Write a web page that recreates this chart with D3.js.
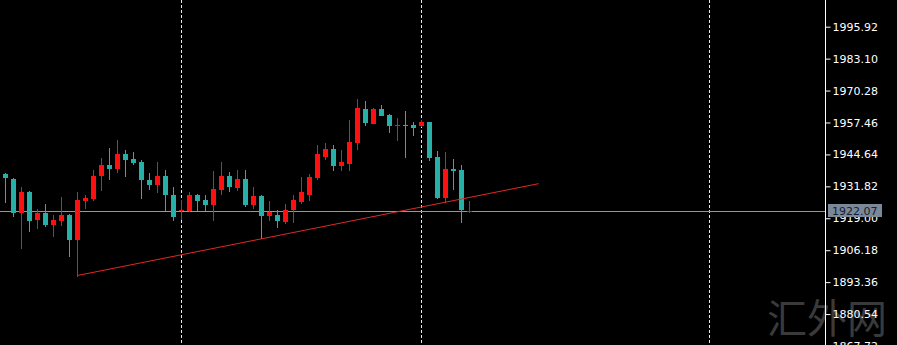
<!DOCTYPE html>
<html>
<head>
<meta charset="utf-8">
<script src="https://cdn.jsdelivr.net/npm/d3@7"></script>
<style>
  html, body { margin: 0; padding: 0; background: #000; overflow: hidden; }
  svg { display: block; }
</style>
</head>
<body>
<div id="chart"></div>
<script>
// OHLC, oldest first
const opens  = [1936.76,1934.75,1921.09,1929.65,1918.40,1921.21,1916.39,1917.99,1920.41,1910.08,
                1925.91,1926.84,1935.80,1940.50,1938.89,1944.64,1942.79,1941.43,1934.47,1932.46,
                1936.08,1928.44,1921.73,1922.01,1928.44,1926.44,1924.43,1930.45,1935.80,1931.14,
                1934.75,1924.43,1928.04,1920.00,1920.41,1917.47,1922.13,1925.63,1928.44,1935.16,
                1943.52,1946.81,1940.10,1940.90,1949.22,1963.01,1956.98,1963.01,1960.60,1955.89,
                1956.58,1956.58,1955.89,1957.66,1943.60,1927.24,1938.81,1938.49,1921.81];
const highs  = [1937.29,1935.16,1931.54,1930.05,1922.70,1924.83,1920.41,1927.36,1920.81,1929.65,
                1928.32,1938.49,1943.31,1947.33,1950.27,1946.25,1945.73,1942.23,1937.17,1941.71,
                1938.49,1931.54,1926.44,1929.37,1928.85,1928.44,1937.81,1941.59,1937.41,1938.21,
                1938.49,1931.54,1928.32,1925.75,1922.42,1924.83,1928.44,1935.56,1936.88,1948.54,
                1949.06,1948.54,1946.53,1958.31,1966.91,1965.94,1963.20,1964.62,1961.00,1959.27,
                1962.20,1957.50,1958.31,1957.78,1945.85,1945.73,1942.91,1940.50,1925.75];
const lows   = [1925.23,1919.48,1906.74,1913.69,1914.78,1915.46,1911.44,1915.99,1903.65,1895.61,
                1922.82,1925.91,1929.77,1934.47,1937.17,1935.40,1940.38,1926.72,1930.17,1929.13,
                1921.73,1917.71,1918.12,1921.33,1921.73,1921.73,1917.71,1928.44,1929.37,1929.77,
                1923.50,1922.70,1910.76,1917.71,1915.06,1916.67,1917.07,1924.83,1925.75,1934.47,
                1942.51,1937.81,1937.81,1937.81,1946.53,1956.18,1956.80,1959.91,1953.24,1949.87,
                1943.19,1951.88,1955.65,1941.83,1926.72,1925.23,1930.17,1917.07,1921.09];
const closes = [1935.00,1921.09,1929.65,1917.71,1921.21,1916.39,1918.40,1920.41,1910.08,1926.44,
                1927.24,1936.08,1940.50,1938.89,1944.64,1942.23,1941.02,1934.19,1932.46,1935.80,
                1928.16,1919.32,1922.42,1928.44,1926.03,1924.43,1930.74,1936.08,1931.38,1934.75,
                1924.43,1928.04,1920.00,1921.61,1917.71,1922.42,1926.15,1929.37,1935.68,1944.92,
                1946.85,1939.82,1941.43,1949.63,1963.29,1957.26,1963.01,1960.19,1955.89,1956.58,
                1956.30,1955.25,1957.66,1943.19,1927.12,1938.89,1938.17,1922.30,1922.07];

const priceTicks = [1995.92,1983.10,1970.28,1957.46,1944.64,1931.82,1919.00,1906.18,1893.36,1880.54,1867.72];
const separatorBars = [22, 52, 88];
const trendStart = [9, 1896.0];
const trendEnd = [66.7, 1932.9];
const lastPrice = 1922.07;
const watermark = "汇外网";

const width = 897, height = 345;
const axisX = 825;

const svg = d3.select("#chart").append("svg").attr("width", width).attr("height", height);
svg.append("rect").attr("width", width).attr("height", height).attr("fill", "#000");

const x = d3.scaleLinear().domain([0, 100]).range([5, 805]);
const y = d3.scaleLinear().domain([1867.72, 1995.92]).range([346, 26.7]);

// watermark sits under everything
svg.append("text")
  .attr("x", 827).attr("y", 333)
  .attr("text-anchor", "middle")
  .style("font-family", "'Noto Sans CJK SC', sans-serif")
  .style("font-size", "40px")
  .attr("fill", "#3a3a3a")
  .text(watermark);

// day separators
svg.selectAll("line.sep")
  .data(separatorBars)
  .enter()
  .append("line")
  .attr("class", "sep")
  .attr("x1", d => x(d) + 0.5).attr("x2", d => x(d) + 0.5)
  .attr("y1", 0).attr("y2", height)
  .attr("stroke", "#e8e8e8")
  .attr("stroke-dasharray", "3,2");

// last price line
svg.append("line")
  .attr("x1", 0).attr("x2", axisX)
  .attr("y1", Math.round(y(lastPrice)) + 0.5).attr("y2", Math.round(y(lastPrice)) + 0.5)
  .attr("stroke", "#8f99a3");

const bars = opens.map((o, i) => ({i: i, o: o, h: highs[i], l: lows[i], c: closes[i]}));
const upColor = "#ff1010", downColor = "#26b0a8";

const candle = svg.append("g").selectAll("g")
  .data(bars)
  .enter()
  .append("g");

candle.append("line")
  .attr("x1", d => Math.round(x(d.i)) + 0.5)
  .attr("x2", d => Math.round(x(d.i)) + 0.5)
  .attr("y1", d => Math.round(y(d.h)))
  .attr("y2", d => Math.round(y(d.l)))
  .attr("stroke", d => d.c >= d.o ? upColor : downColor);

candle.append("rect")
  .attr("x", d => Math.round(x(d.i)) - 2)
  .attr("width", 5)
  .attr("y", d => Math.round(y(Math.max(d.o, d.c))))
  .attr("height", d => Math.max(1, Math.round(y(Math.min(d.o, d.c))) - Math.round(y(Math.max(d.o, d.c)))))
  .attr("fill", d => d.c >= d.o ? upColor : downColor);

// trend line
svg.append("line")
  .attr("x1", x(trendStart[0])).attr("y1", y(trendStart[1]))
  .attr("x2", x(trendEnd[0])).attr("y2", y(trendEnd[1]))
  .attr("stroke", "#e02828").attr("stroke-width", 1);

// price axis
svg.append("line")
  .attr("x1", axisX + 0.5).attr("x2", axisX + 0.5)
  .attr("y1", 0).attr("y2", height)
  .attr("stroke", "#fff");

const axis = d3.axisRight(y)
  .tickValues(priceTicks)
  .tickSize(5)
  .tickPadding(2)
  .tickFormat(d3.format(".2f"));
const axisG = svg.append("g").attr("transform", "translate(" + (axisX + 0.5) + ",0)").call(axis);
axisG.select(".domain").remove();
axisG.selectAll(".tick line").attr("stroke", "#fff");
axisG.selectAll(".tick text")
  .attr("fill", "#fff")
  .style("font-family", "'DejaVu Sans', sans-serif")
  .style("font-size", "11px");

// last price tag
const tagY = Math.round(y(lastPrice));
svg.append("rect")
  .attr("x", 828).attr("y", tagY - 7)
  .attr("width", 54).attr("height", 13)
  .attr("fill", "#7b8898");
svg.append("text")
  .attr("x", 832).attr("y", tagY + 4)
  .style("font-family", "'DejaVu Sans', sans-serif")
  .style("font-size", "11px")
  .attr("fill", "#142033")
  .text(d3.format(".2f")(lastPrice));
</script>
</body>
</html>
